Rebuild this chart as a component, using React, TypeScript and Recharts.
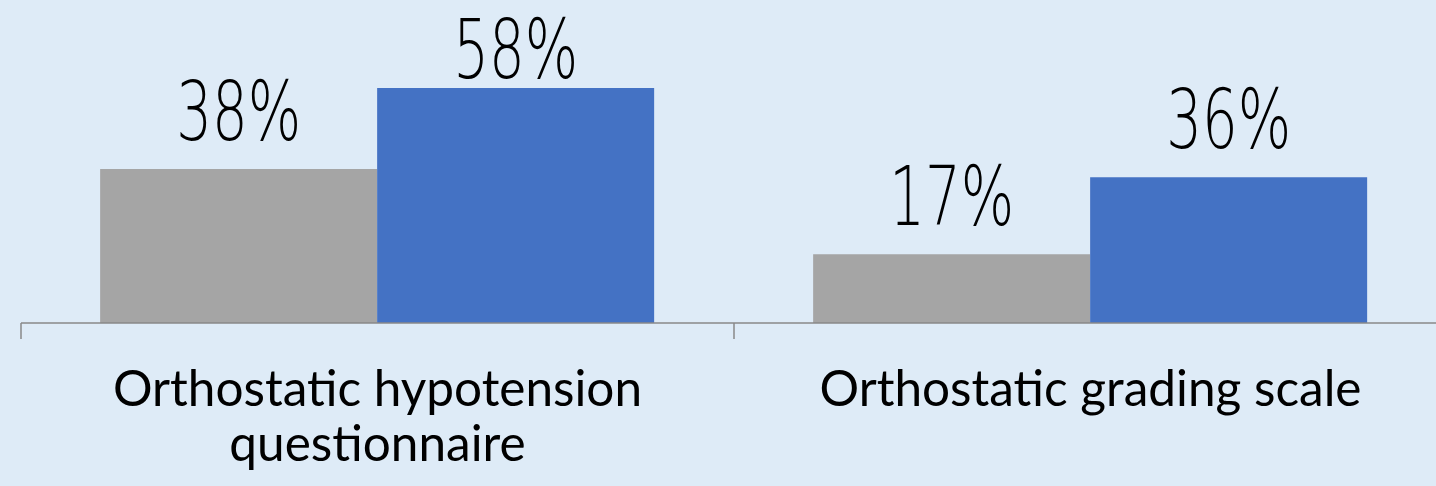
import { BarChart, Bar, XAxis, YAxis, LabelList } from "recharts";

const categories = ["Orthostatic hypotension questionnaire", "Orthostatic grading scale"];
const series1 = [38, 17];
const series2 = [58, 36];
const yDomain: [number, number] = [0, 80];

const data = categories.map((name, i) => ({ name, s1: series1[i], s2: series2[i] }));

const AXIS = "#898989";
const CAT_SIZE = 49.5;
const CAT_FONT = `${CAT_SIZE}px Lato, sans-serif`;

let canvasCtx: CanvasRenderingContext2D | null = null;
function measure(s: string) {
  if (!canvasCtx) canvasCtx = document.createElement("canvas").getContext("2d");
  if (!canvasCtx) return s.length * 24;
  canvasCtx.font = CAT_FONT;
  return canvasCtx.measureText(s).width;
}

// greedy word wrap
function wrap(s: string, maxW: number) {
  const lines: string[] = [];
  let cur = "";
  for (const w of s.split(" ")) {
    const next = cur ? cur + " " + w : w;
    if (cur && measure(next) > maxW) {
      lines.push(cur);
      cur = w;
    } else cur = next;
  }
  if (cur) lines.push(cur);
  return lines;
}

function PercentLabel(props: any) {
  const { x, y, width, value } = props;
  const cx = x + width / 2;
  // keep labels inside the chart area, like the office chart does
  const base = Math.max(y - 29, 79);
  return (
    <text
      transform={`translate(${cx} ${base}) scale(0.686 1)`}
      x={0}
      y={0}
      textAnchor="middle"
      fill="#000"
      fontFamily="'DejaVu Sans', sans-serif"
      fontWeight={200}
      fontSize={82}
    >
      {`${value}%`}
    </text>
  );
}

function CategoryTick(props: any) {
  const { x, y, payload } = props;
  const half = payload?.offset ?? 356;
  const lines = wrap(String(payload.value), 640);
  return (
    <g>
      <line x1={x - half} y1={y - 8} x2={x - half} y2={y + 8} stroke={AXIS} strokeWidth={1.5} />
      <text
        x={x}
        y={y + 75}
        textAnchor="middle"
        fill="#000"
        fontFamily="Lato, sans-serif"
        fontSize={CAT_SIZE}
      >
        {lines.map((l, i) => (
          <tspan key={i} x={x} dy={i === 0 ? 0 : 55}>
            {l}
          </tspan>
        ))}
      </text>
    </g>
  );
}

export default function App() {
  return (
    <div
      style={{
        position: "absolute",
        top: -1,
        left: 0,
        width: 1436,
        height: 487,
        overflow: "hidden",
        background: "#deebf7",
      }}
    >
      <BarChart
        width={1447}
        height={487}
        data={data}
        margin={{ top: 0, right: 0, bottom: 133, left: 21 }}
        barCategoryGap="11.1%"
        barGap={0}
      >
        <YAxis hide domain={yDomain} />
        <XAxis
          dataKey="name"
          axisLine={{ stroke: AXIS, strokeWidth: 1.5 }}
          tickLine={false}
          tick={<CategoryTick />}
          interval={0}
        />
        <Bar dataKey="s1" fill="#a5a5a5" isAnimationActive={false}>
          <LabelList dataKey="s1" content={<PercentLabel />} />
        </Bar>
        <Bar dataKey="s2" fill="#4472c4" isAnimationActive={false}>
          <LabelList dataKey="s2" content={<PercentLabel />} />
        </Bar>
      </BarChart>
    </div>
  );
}
